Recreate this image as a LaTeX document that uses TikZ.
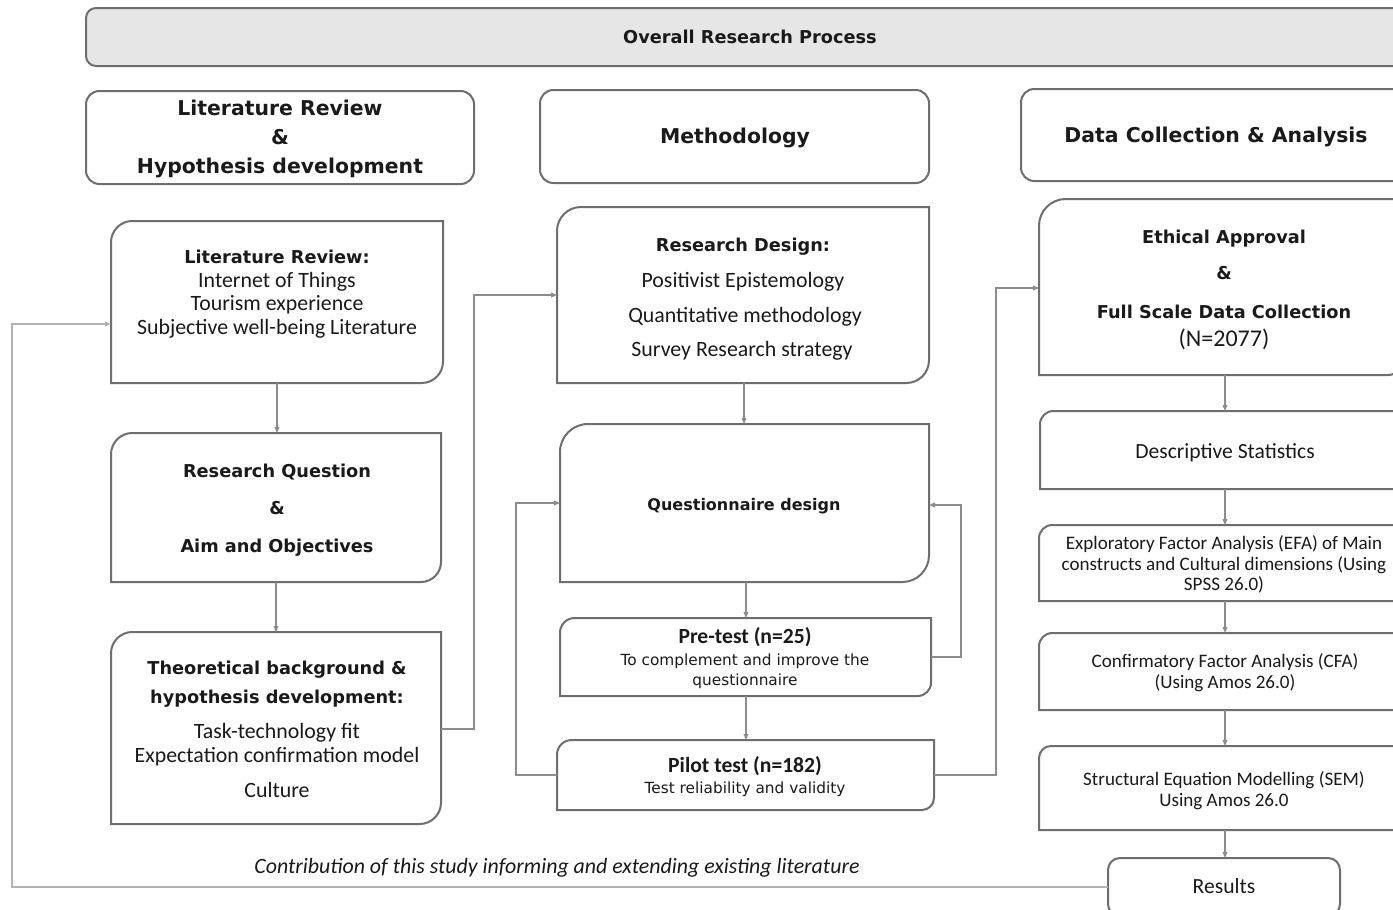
\documentclass[tikz,border=0pt]{standalone}
\usepackage{fontspec}
\setmainfont{Carlito}
\newfontfamily\vb{DejaVu Sans}
\usetikzlibrary{arrows.meta,fit}
\definecolor{edge}{HTML}{6E6E6E}
\definecolor{conn}{HTML}{8C8C8C}
\definecolor{loopc}{HTML}{B3B3B3}
\definecolor{barfill}{HTML}{E6E6E6}
\definecolor{ink}{HTML}{1A1A1A}
\newcommand\dbox[3]{\draw[bx] ([xshift=#2]#1.north west) -- (#1.north east) -- ([yshift=#3]#1.south east) arc[start angle=0,end angle=-90,radius=#3] -- (#1.south west) -- ([yshift=-#2]#1.north west) arc[start angle=180,end angle=90,radius=#2] -- cycle;}
\begin{document}
\begin{tikzpicture}[x=0.75pt,y=-0.75pt,
  region/.style={inner sep=0pt, outer sep=0pt, draw=none},
  bx/.style={draw=edge, line width=1.5pt},
  hbox/.style={region, draw=edge, line width=1.5pt, rounded corners=10pt},
  arr/.style={draw=conn, line width=0.8pt, -{Triangle[length=4.5pt,width=3.6pt]}},
  looparr/.style={draw=loopc, line width=0.8pt, -{Triangle[length=4.5pt,width=3.6pt]}},
  txt/.style={inner sep=0pt, anchor=mid, text=ink, yshift=-2.2pt},
  hdr/.style={txt, font=\vb\bfseries\fontsize{15.3}{18}\selectfont},
  ttl/.style={txt, font=\vb\bfseries\fontsize{13.3}{16}\selectfont},
  reg/.style={txt, font=\fontsize{16.4}{19}\selectfont},
  sml/.style={txt, font=\fontsize{14.3}{17}\selectfont},
  vreg/.style={txt, font=\vb\fontsize{11.5}{14}\selectfont},
  cbold/.style={txt, font=\bfseries\fontsize{16.2}{19}\selectfont},
  ital/.style={txt, font=\itshape\fontsize{16.4}{19}\selectfont}]
\clip (0,0) rectangle (1393,910);
\fill[white] (0,0) rectangle (1393,910);

% overall bar and headers
\node[fit={(86,8)(1410,66)}, region, draw=edge, line width=1.5pt, fill=barfill, rounded corners=7.5pt] (ov) {};
\node[ttl] (ovt) at (750,37) {Overall Research Process};
\node[fit={(86,91)(474,184)}, hbox] (h1) {};
\node[hdr] (h1a) at (280,109) {Literature Review};
\node[hdr] (h1b) at (280,138) {\&};
\node[hdr] (h1c) at (280,167) {Hypothesis development};
\node[fit={(540,90)(929,183)}, hbox] (h2) {};
\node[hdr] (h2a) at (735,137) {Methodology};
\node[fit={(1021,89)(1410,181)}, hbox] (h3) {};
\node[hdr] (h3a) at (1216,136) {Data Collection \& Analysis};

% left column
\node[fit={(111,221)(443,383)}, region] (lr) {};
\dbox{lr}{16pt}{16pt}
\node[ttl] (lr1) at (277,257) {Literature Review:};
\node[reg] (lr2) at (277,281) {Internet of Things};
\node[reg] (lr3) at (277,304) {Tourism experience};
\node[reg] (lr4) at (277,328) {Subjective well-being Literature};

\node[fit={(111,433)(441,582)}, region] (rq) {};
\dbox{rq}{16pt}{15pt}
\node[ttl] (rq1) at (277,471) {Research Question};
\node[ttl] (rq2) at (277,508) {\&};
\node[ttl] (rq3) at (277,546) {Aim and Objectives};

\node[fit={(111,632)(441,824)}, region] (tb) {};
\dbox{tb}{16pt}{16pt}
\node[ttl] (tb1) at (277,668) {Theoretical background \&};
\node[ttl] (tb2) at (277,697) {hypothesis development:};
\node[reg] (tb3) at (277,732) {Task-technology fit};
\node[reg] (tb4) at (277,756) {Expectation confirmation model};
\node[reg] (tb5) at (277,791) {Culture};

% middle column
\node[fit={(557,207)(929,383)}, region] (rd) {};
\dbox{rd}{18pt}{17pt}
\node[ttl] (rd1) at (743,245) {Research Design:};
\node[reg] (rd2) at (743,281) {Positivist Epistemology};
\node[reg] (rd3) at (745,316) {Quantitative methodology};
\node[reg] (rd4) at (742,350) {Survey Research strategy};

\node[fit={(560,424)(929,582)}, region] (qd) {};
\dbox{qd}{21pt}{20pt}
\node[ttl, font=\vb\bfseries\fontsize{12}{14}\selectfont] (qd1) at (744,504) {Questionnaire design};

\node[fit={(560,618)(931,696)}, region] (pre) {};
\dbox{pre}{11pt}{10pt}
\node[cbold] (pre1) at (745,637) {Pre-test (n=25)};
\node[vreg] (pre2) at (745,659) {To complement and improve the};
\node[vreg] (pre3) at (745,679) {questionnaire};

\node[fit={(557,740)(934,810)}, region] (pil) {};
\dbox{pil}{11pt}{9pt}
\node[cbold] (pil1) at (745,766) {Pilot test (n=182)};
\node[vreg] (pil2) at (745,787) {Test reliability and validity};

% right column
\coordinate (colx) at (1225,0);
\node[fit={(1039,199)(1404,375)}, region] (eth) {};
\dbox{eth}{20pt}{12pt}
\node[ttl] (eth1) at (1224,237) {Ethical Approval};
\node[ttl] (eth2) at (1224,273) {\&};
\node[ttl] (eth3) at (1224,312) {Full Scale Data Collection};
\node[reg, font=\fontsize{18}{21}\selectfont] (eth4) at (1224,340) {(N=2077)};

\node[fit={(1040,411)(1410,489)}, region] (desc) {};
\dbox{desc}{10pt}{8pt}
\node[reg, font=\fontsize{16.2}{19}\selectfont] (desc1) at (1225,452) {Descriptive Statistics};

\node[fit={(1039,525)(1410,601)}, region] (efa) {};
\dbox{efa}{10pt}{8pt}
\node[sml] (efa1) at (1224,543) {Exploratory Factor Analysis (EFA) of Main};
\node[sml] (efa2) at (1224,564) {constructs and Cultural dimensions (Using};
\node[sml] (efa3) at (1224,584) {SPSS 26.0)};

\node[fit={(1039,633)(1410,710)}, region] (cfa) {};
\dbox{cfa}{10pt}{8pt}
\node[sml] (cfa1) at (1225,661) {Confirmatory Factor Analysis (CFA)};
\node[sml] (cfa2) at (1225,682) {(Using Amos 26.0)};

\node[fit={(1039,746)(1410,830)}, region] (sem) {};
\dbox{sem}{9pt}{8pt}
\node[sml] (sem1) at (1224,779) {Structural Equation Modelling (SEM)};
\node[sml] (sem2) at (1224,800) {Using Amos 26.0};

\node[fit={(1108,858)(1340,916)}, hbox, rounded corners=9pt] (res) {};
\node[reg, font=\fontsize{16.2}{19}\selectfont] (res1) at (1224,887) {Results};

\node[ital] (contrib) at (557,867) {Contribution of this study informing and extending existing literature};

% connectors
\draw[arr] (lr.south) -- (lr.south |- rq.north);
\draw[arr] (rq.south) -- (rq.south |- tb.north);
\draw[arr] (tb.east |- 0,729) -| (474,295) -- (rd.west |- 0,295);
\draw[arr] (744,0 |- rd.south) -- (744,0 |- qd.north);
\draw[arr] (746,0 |- qd.south) -- (746,0 |- pre.north);
\draw[arr] (746,0 |- pre.south) -- (746,0 |- pil.north);
\draw[arr] (pil.west) -| (516,503) -- (qd.west);
\draw[arr] (pre.east) -| (961,505) -- (qd.east |- 0,505);
\draw[arr] (pil.east) -| (996,288) -- (eth.west |- 0,288);
\draw[arr] (colx |- eth.south) -- (colx |- desc.north);
\draw[arr] (colx |- desc.south) -- (colx |- efa.north);
\draw[arr] (colx |- efa.south) -- (colx |- cfa.north);
\draw[arr] (colx |- cfa.south) -- (colx |- sem.north);
\draw[arr] (colx |- sem.south) -- (colx |- res.north);
\draw[looparr] (res.west) -| (12,324) -- (lr.west |- 0,324);
\end{tikzpicture}
\end{document}
